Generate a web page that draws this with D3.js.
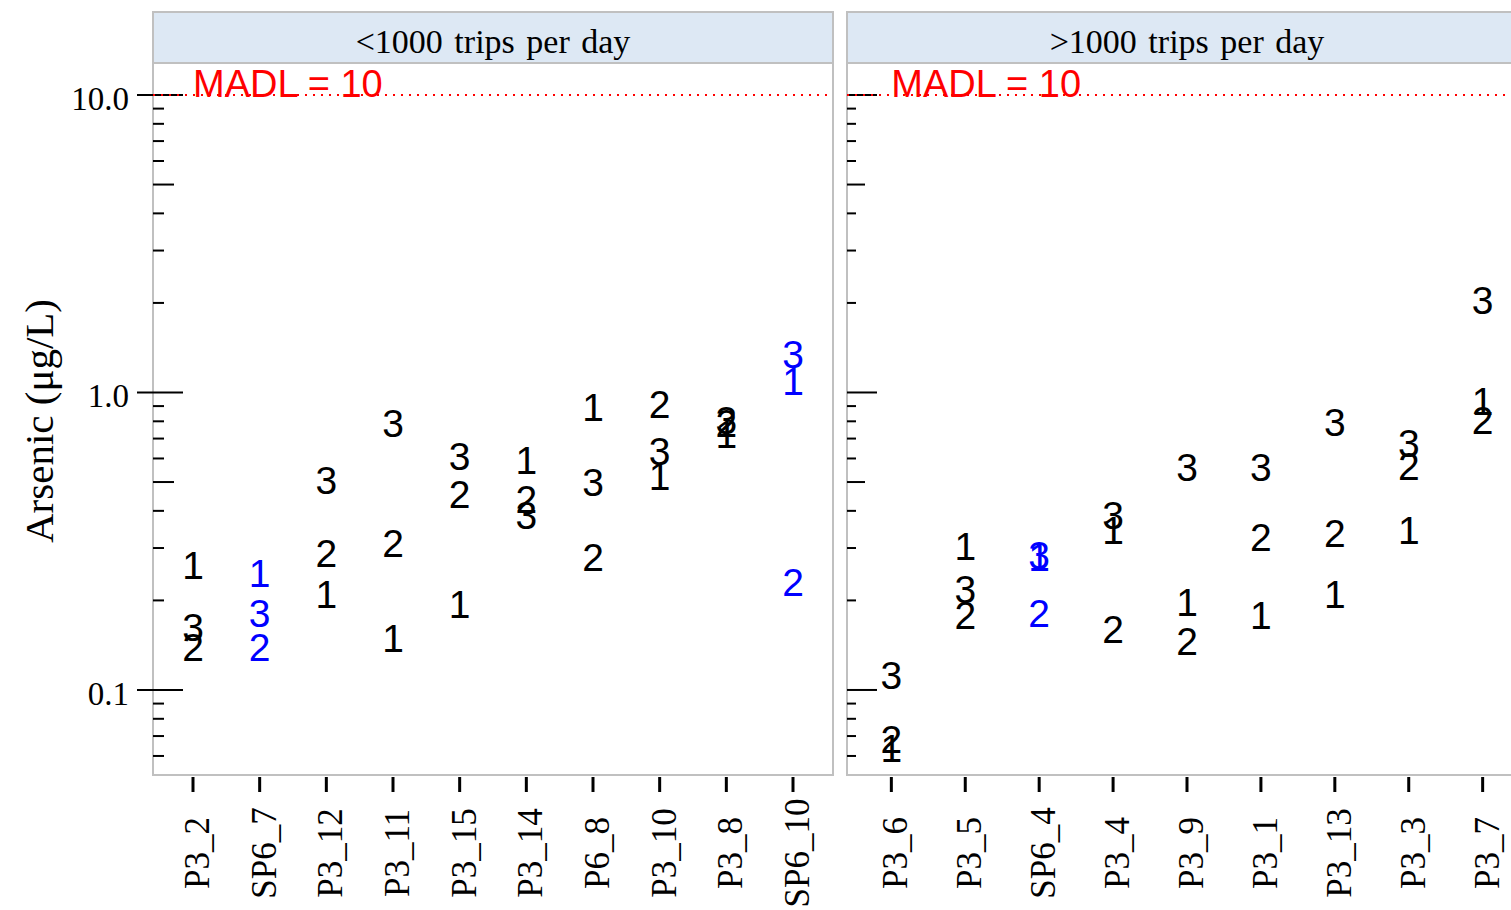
<!DOCTYPE html>
<html>
<head>
<meta charset="utf-8">
<script src="https://cdn.jsdelivr.net/npm/d3@7"></script>
<style>
  html, body { margin: 0; padding: 0; background: #fff; }
  svg { display: block; }
</style>
</head>
<body>
<svg id="chart" width="1511" height="910"></svg>
<script>
// Panel titles
const panelTitles = ["<1000 trips per day", ">1000 trips per day"];

// Sites in each panel, left to right
const sitesLow  = ["P3_2", "SP6_7", "P3_12", "P3_11", "P3_15", "P3_14", "P6_8", "P3_10", "P3_8", "SP6_10"];
const sitesHigh = ["P3_6", "P3_5", "SP6_4", "P3_4", "P3_9", "P3_1", "P3_13", "P3_3", "P3_7"];

// Arsenic (µg/L) for sampling events 1, 2 and 3 at each site
const event1Low  = [0.264, 0.248, 0.211, 0.149, 0.194, 0.595, 0.897, 0.526, 0.728, 1.097];
const event2Low  = [0.140, 0.140, 0.288, 0.313, 0.457, 0.440, 0.281, 0.918, 0.787, 0.230];
const event3Low  = [0.163, 0.181, 0.510, 0.787, 0.614, 0.389, 0.502, 0.634, 0.811, 1.352];

const event1High = [0.0636, 0.306, 0.281, 0.346, 0.198, 0.179, 0.211, 0.344, 0.933];
const event2High = [0.0687, 0.179, 0.181, 0.160, 0.1456, 0.3256, 0.338, 0.568, 0.811];
const event3High = [0.112, 0.218, 0.285, 0.389, 0.560, 0.560, 0.793, 0.674, 2.04];

const eventLabels = ["1", "2", "3"];

// Reference level
const madlValue = 10;
const madlLabel = "MADL = 10";

// Y axis
const yMajorTicks = [0.1, 1, 10];
const yMajorLabels = ["0.1", "1.0", "10.0"];
const yDomain = [0.05178, 12.81];
const yTitle = "Arsenic (\u03BCg/L)";

const svg = d3.select("#chart");
const serif = "'Liberation Serif', 'Times New Roman', serif";
const sans = "'Liberation Sans', Arial, sans-serif";
const gridGray = "#c0c0c0";

const plotTop = 63, plotBottom = 775, stripTop = 12;
const panelWidth = 680;
const panelLefts = [153, 847];

const y = d3.scaleLog().domain(yDomain).range([plotBottom, plotTop]);

// minor ticks at 2..9 × 10^k inside the domain
const minorTicks = [];
[-2, -1, 0, 1].forEach(k => {
  d3.range(2, 10).forEach(m => {
    const v = m * Math.pow(10, k);
    if (v >= yDomain[0] && v <= yDomain[1]) minorTicks.push(v);
  });
});

const panels = [
  { title: panelTitles[0], sites: sitesLow,  series: [event1Low,  event2Low,  event3Low],  left: panelLefts[0], minor: 11, medium: 21, majorIn: 30, majorOut: 16, labels: true },
  { title: panelTitles[1], sites: sitesHigh, series: [event1High, event2High, event3High], left: panelLefts[1], minor: 9,  medium: 18, majorIn: 30, majorOut: 0,  labels: false }
];

panels.forEach(p => {
  const g = svg.append("g");
  const x = d3.scalePoint().domain(p.sites).range([p.left, p.left + panelWidth]).padding(0.6);

  // strip
  g.append("rect")
    .attr("x", p.left).attr("y", stripTop)
    .attr("width", panelWidth).attr("height", plotTop - stripTop)
    .attr("fill", "#dde8f4").attr("stroke", gridGray).attr("stroke-width", 2);
  g.append("text")
    .attr("x", p.left + panelWidth / 2).attr("y", 53)
    .attr("text-anchor", "middle")
    .attr("font-family", serif).attr("font-size", 34).attr("fill", "#000")
    .attr("word-spacing", 3)
    .text(p.title);

  // panel frame
  g.append("rect")
    .attr("x", p.left).attr("y", plotTop)
    .attr("width", panelWidth).attr("height", plotBottom - plotTop)
    .attr("fill", "#fff").attr("stroke", gridGray).attr("stroke-width", 2);

  // y ticks
  const tickG = g.append("g").attr("stroke", "#000").attr("stroke-width", 2);
  minorTicks.forEach(v => {
    const len = (Math.abs(v / Math.pow(10, Math.floor(Math.log10(v) + 1e-9)) - 5) < 1e-6) ? p.medium : p.minor;
    tickG.append("line")
      .attr("x1", p.left).attr("x2", p.left + len)
      .attr("y1", y(v)).attr("y2", y(v));
  });
  yMajorTicks.forEach(v => {
    tickG.append("line")
      .attr("x1", p.left - p.majorOut).attr("x2", p.left + p.majorIn)
      .attr("y1", y(v)).attr("y2", y(v));
  });
  if (p.labels) {
    yMajorTicks.forEach((v, i) => {
      g.append("text")
        .attr("x", 129).attr("y", y(v) + 15)
        .attr("text-anchor", "end")
        .attr("font-family", serif).attr("font-size", 33).attr("fill", "#000")
        .text(yMajorLabels[i]);
    });
  }

  // MADL reference line
  g.append("line")
    .attr("x1", p.left).attr("x2", p.left + panelWidth)
    .attr("y1", y(madlValue)).attr("y2", y(madlValue))
    .attr("stroke", "#ff0000").attr("stroke-width", 2)
    .attr("stroke-dasharray", "2,6");
  g.append("text")
    .attr("x", x(p.sites[0])).attr("y", y(madlValue) + 2)
    .attr("font-family", sans).attr("font-size", 38).attr("fill", "#ff0000")
    .text(madlLabel);

  // x ticks and labels
  p.sites.forEach(s => {
    g.append("line")
      .attr("x1", x(s)).attr("x2", x(s))
      .attr("y1", plotBottom + 2).attr("y2", plotBottom + 17)
      .attr("stroke", "#000").attr("stroke-width", 3);
    g.append("text")
      .attr("transform", `translate(${x(s) + 16},853) rotate(-90)`)
      .attr("text-anchor", "middle")
      .attr("font-family", serif).attr("font-size", 35).attr("fill", "#000")
      .text(s);
  });

  // sample-event markers drawn as their digits
  p.series.forEach((vals, si) => {
    vals.forEach((v, i) => {
      const site = p.sites[i];
      g.append("text")
        .attr("x", x(site)).attr("y", y(v))
        .attr("dy", "0.36em")
        .attr("text-anchor", "middle")
        .attr("font-family", sans).attr("font-size", 39)
        .attr("fill", site.startsWith("SP") ? "#0000ff" : "#000")
        .text(eventLabels[si]);
    });
  });
});

// y axis title
svg.append("text")
  .attr("transform", "translate(53,421) rotate(-90)")
  .attr("text-anchor", "middle")
  .attr("font-family", serif).attr("font-size", 41).attr("fill", "#000")
  .text(yTitle);
</script>
</body>
</html>
